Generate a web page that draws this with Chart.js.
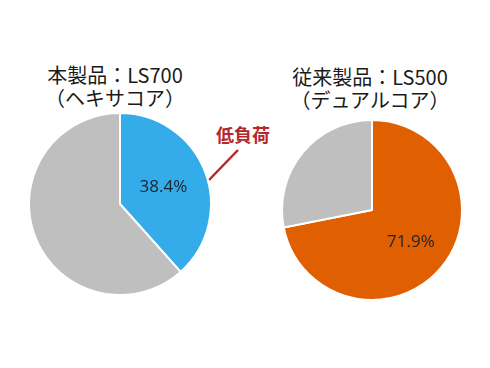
<!DOCTYPE html>
<html>
<head>
<meta charset="utf-8">
<script src="https://cdn.jsdelivr.net/npm/chart.js@4/dist/chart.umd.min.js"></script>
<style>
  html, body { margin: 0; padding: 0; background: #fff; }
  #wrap { position: relative; width: 490px; height: 368px; overflow: hidden; }
  .box { position: absolute; }
  .title {
    position: absolute; text-align: center; white-space: nowrap;
    font-family: "Noto Sans CJK JP", sans-serif; font-size: 20px; line-height: 23px; color: #1a1a1a;
  }
  #note {
    position: absolute; left: 216px; top: 121px;
    font-family: "Noto Sans CJK JP", sans-serif; font-weight: bold; font-size: 18px; color: #b3282d;
  }
  svg { position: absolute; left: 0; top: 0; }
</style>
</head>
<body>
<div id="wrap">
  <div class="title" style="left:15px; width:200px; top:63px;">本製品：LS700<br>（ヘキサコア）</div>
  <div class="title" style="left:270px; width:200px; top:65px;">従来製品：LS500<br>（デュアルコア）</div>
  <div id="note">低負荷</div>
  <svg width="490" height="368"><line x1="238" y1="150" x2="209" y2="180" stroke="#b3282d" stroke-width="2.5"/></svg>
  <div class="box" style="left:28px; top:112px; width:184px; height:184px;"><canvas id="c1" width="184" height="184"></canvas></div>
  <div class="box" style="left:281px; top:119px; width:182px; height:182px;"><canvas id="c2" width="182" height="182"></canvas></div>
</div>
<script>
// Load share per product (percent)
const labels = ['使用率', 'その他'];
const newValues = [38.4, 61.6];
const oldValues = [71.9, 28.1];
const newColors = ['#33ace9', '#bfbfbf'];
const oldColors = ['#e05f00', '#bfbfbf'];

// Draw the percentage of the first slice at a fraction of the radius
const sliceLabel = {
  id: 'sliceLabel',
  afterDatasetsDraw(chart, args, opts) {
    const arc = chart.getDatasetMeta(0).data[0];
    const mid = (arc.startAngle + arc.endAngle) / 2;
    const r = arc.outerRadius * opts.pos;
    const ctx = chart.ctx;
    ctx.save();
    ctx.font = '17px "Open Sans", sans-serif';
    ctx.fillStyle = '#1b2530';
    ctx.textAlign = 'center';
    ctx.textBaseline = 'middle';
    const v = chart.data.datasets[0].data[0];
    ctx.fillText(v.toFixed(1) + '%', arc.x + Math.cos(mid) * r, arc.y + Math.sin(mid) * r);
    ctx.restore();
  }
};

function makePie(id, values, colors, pos) {
  return new Chart(document.getElementById(id), {
    type: 'pie',
    data: {
      labels,
      datasets: [{
        data: values,
        backgroundColor: colors,
        borderColor: '#ffffff',
        borderWidth: 2,
      }],
    },
    options: {
      responsive: false,
      animation: false,
      layout: { padding: 0 },
      plugins: {
        legend: { display: false },
        tooltip: { enabled: false },
        sliceLabel: { pos },
      },
    },
    plugins: [sliceLabel],
  });
}

makePie('c1', newValues, newColors, 0.51);
makePie('c2', oldValues, oldColors, 0.56);
</script>
</body>
</html>
